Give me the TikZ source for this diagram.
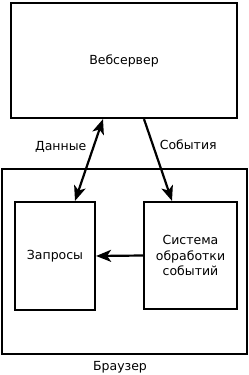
\documentclass[tikz,border=0pt]{standalone}
\usepackage{fontspec}
\setmainfont{DejaVu Sans}
\usetikzlibrary{arrows.meta,positioning,calc}
\tikzset{
  block/.style={rectangle, draw=black, line width=2.2pt, fill=white,
                align=center, font=\fontsize{12.5}{15.5}\selectfont, inner sep=0pt},
  arr/.style={-{Stealth[length=15pt,width=12pt,inset=4pt]}, line width=2.2pt, draw=black},
  darr/.style={{Stealth[length=15pt,width=12pt,inset=4pt]}-{Stealth[length=15pt,width=12pt,inset=4pt]},
               line width=2.2pt, draw=black},
  lbl/.style={font=\fontsize{12.5}{15.5}\selectfont, inner sep=1pt},
}
\begin{document}
\begin{tikzpicture}[x=1pt,y=-1pt]
  \useasboundingbox (0,0) rectangle (249,375);
  % outer boxes
  \node[block, minimum width=226pt, minimum height=115pt] (web) at (124,60.5) {Вебсервер};
  \node[block, minimum width=245pt, minimum height=185pt] (browser) at (124.5,261.5) {};
  \node[lbl] (browserlbl) at (120,367) {Браузер};
  % inner boxes
  \node[block, minimum width=80pt, minimum height=108pt] (zapros) at (55,256) {Запросы};
  \node[block, minimum width=93pt, minimum height=107pt] (events) at (190.5,255.5)
    {Система\\обработки\\событий};
  % connectors
  \draw[darr] ([xshift=20pt]zapros.north) -- node[lbl, pos=0.66, left=5pt] {Данные} ([xshift=-21pt]web.south);
  \draw[arr] ([xshift=20pt]web.south) -- node[lbl, pos=0.31, right=5pt] {События} ([xshift=-18.5pt]events.north);
  \draw[arr] (events.west) -- (zapros.east);
\end{tikzpicture}
\end{document}
